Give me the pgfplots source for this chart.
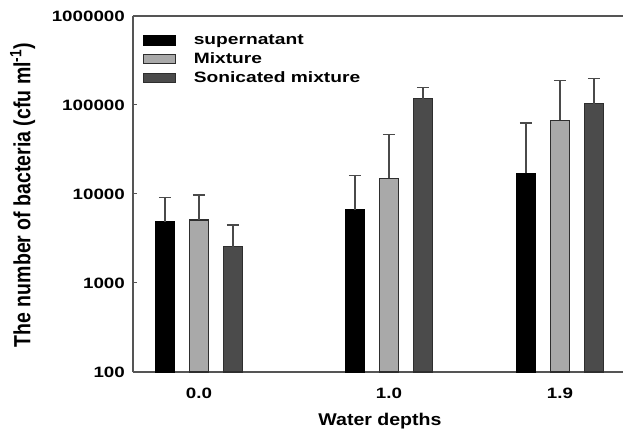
\documentclass[border=0pt]{standalone}
\usepackage{fontspec}
\setmainfont{Liberation Sans}
\newfontfamily\tickfont[FakeStretch=1.25]{Liberation Sans}
\newfontfamily\legfont[FakeStretch=1.28]{Liberation Sans}
\newfontfamily\xlabfont[FakeStretch=1.15]{Liberation Sans}
\usepackage{graphicx}
\usepackage{pgfplots}
\pgfplotsset{compat=1.18}
\definecolor{axisgray}{HTML}{555555}
\definecolor{edgegray}{HTML}{2E2E2E}
\definecolor{mixgray}{HTML}{A9A9A9}
\definecolor{sonicgray}{HTML}{4B4B4B}
\definecolor{errgray}{HTML}{4A4A4A}
\begin{document}
\begin{tikzpicture}
\begin{axis}[
  scale only axis, width=490pt, height=356pt,
  xmin=-0.347, xmax=2.232,
  ymode=log, ymin=100, ymax=1000000, log origin=infty,
  ytick={100,1000,10000,100000,1000000},
  yticklabels={100,1000,10000,100000,1000000},
  yminorticks=false,
  xtick={0,1,1.9}, xticklabels={0.0,1.0,1.9},
  axis x line*=box, axis y line*=left,
  axis line style={draw=axisgray, line width=1.3pt},
  ytick pos=left, tick align=inside, major tick length=4pt,
  xtick style={draw=none},
  ytick style={draw=axisgray, line width=1pt},
  tick label style={font=\tickfont\bfseries\fontsize{15}{17}\selectfont, inner sep=0pt},
  yticklabel style={xshift=-8pt},
  xticklabel style={yshift=-12pt},
  xlabel={Water depths},
  ylabel={\scalebox{1}[1.2]{The number of bacteria (cfu ml\textsuperscript{-1})}},
  every axis x label/.style={at={(axis description cs:0.504,-0.149)}, anchor=base,
    font=\xlabfont\bfseries\fontsize{17}{19}\selectfont},
  every axis y label/.style={at={(axis description cs:-0.225,0.497)}, rotate=90, anchor=center,
    font=\bfseries\fontsize{19.5}{21}\selectfont},
  ybar, bar width=19.5pt,
  legend style={draw=none, fill=none, inner sep=0pt, row sep=2.6pt,
    at={(axis description cs:0.0204,0.953)}, anchor=north west,
    font=\legfont\bfseries\fontsize{15}{16}\selectfont, cells={anchor=west}},
  error bars/error bar style={line width=1.3pt, color=errgray},
  error bars/error mark options={rotate=90, mark size=6pt, line width=1.3pt, color=errgray},
]
\addplot[fill=black, draw=black, line width=1.2pt, bar shift=-34pt,
  error bars/.cd, y dir=plus, y explicit]
  coordinates {(0,4900) +- (0,4200) (1,6600) +- (0,9400) (1.9,17000) +- (0,46000)};
\addlegendentry{supernatant}
\addplot[fill=mixgray, draw=edgegray, line width=1.2pt, bar shift=0pt,
  error bars/.cd, y dir=plus, y explicit]
  coordinates {(0,5100) +- (0,4650) (1,15000) +- (0,32000) (1.9,67000) +- (0,122000)};
\addlegendentry{Mixture}
\addplot[fill=sonicgray, draw=edgegray, line width=1.2pt, bar shift=34pt,
  error bars/.cd, y dir=plus, y explicit]
  coordinates {(0,2550) +- (0,1950) (1,118000) +- (0,40000) (1.9,103000) +- (0,95000)};
\addlegendentry{Sonicated mixture}
\pgfplotsset{legend image code/.code={\draw[#1] (0pt,-4.5pt) rectangle (32pt,4.5pt); \path[draw=none,fill=none] (0pt,0pt) -- (48pt,0pt);}}
\end{axis}
\pgfresetboundingbox
\path[use as bounding box] ([xshift=-133pt,yshift=-59pt]current axis.south west) rectangle ([yshift=16pt]current axis.north east);
\end{tikzpicture}
\end{document}
